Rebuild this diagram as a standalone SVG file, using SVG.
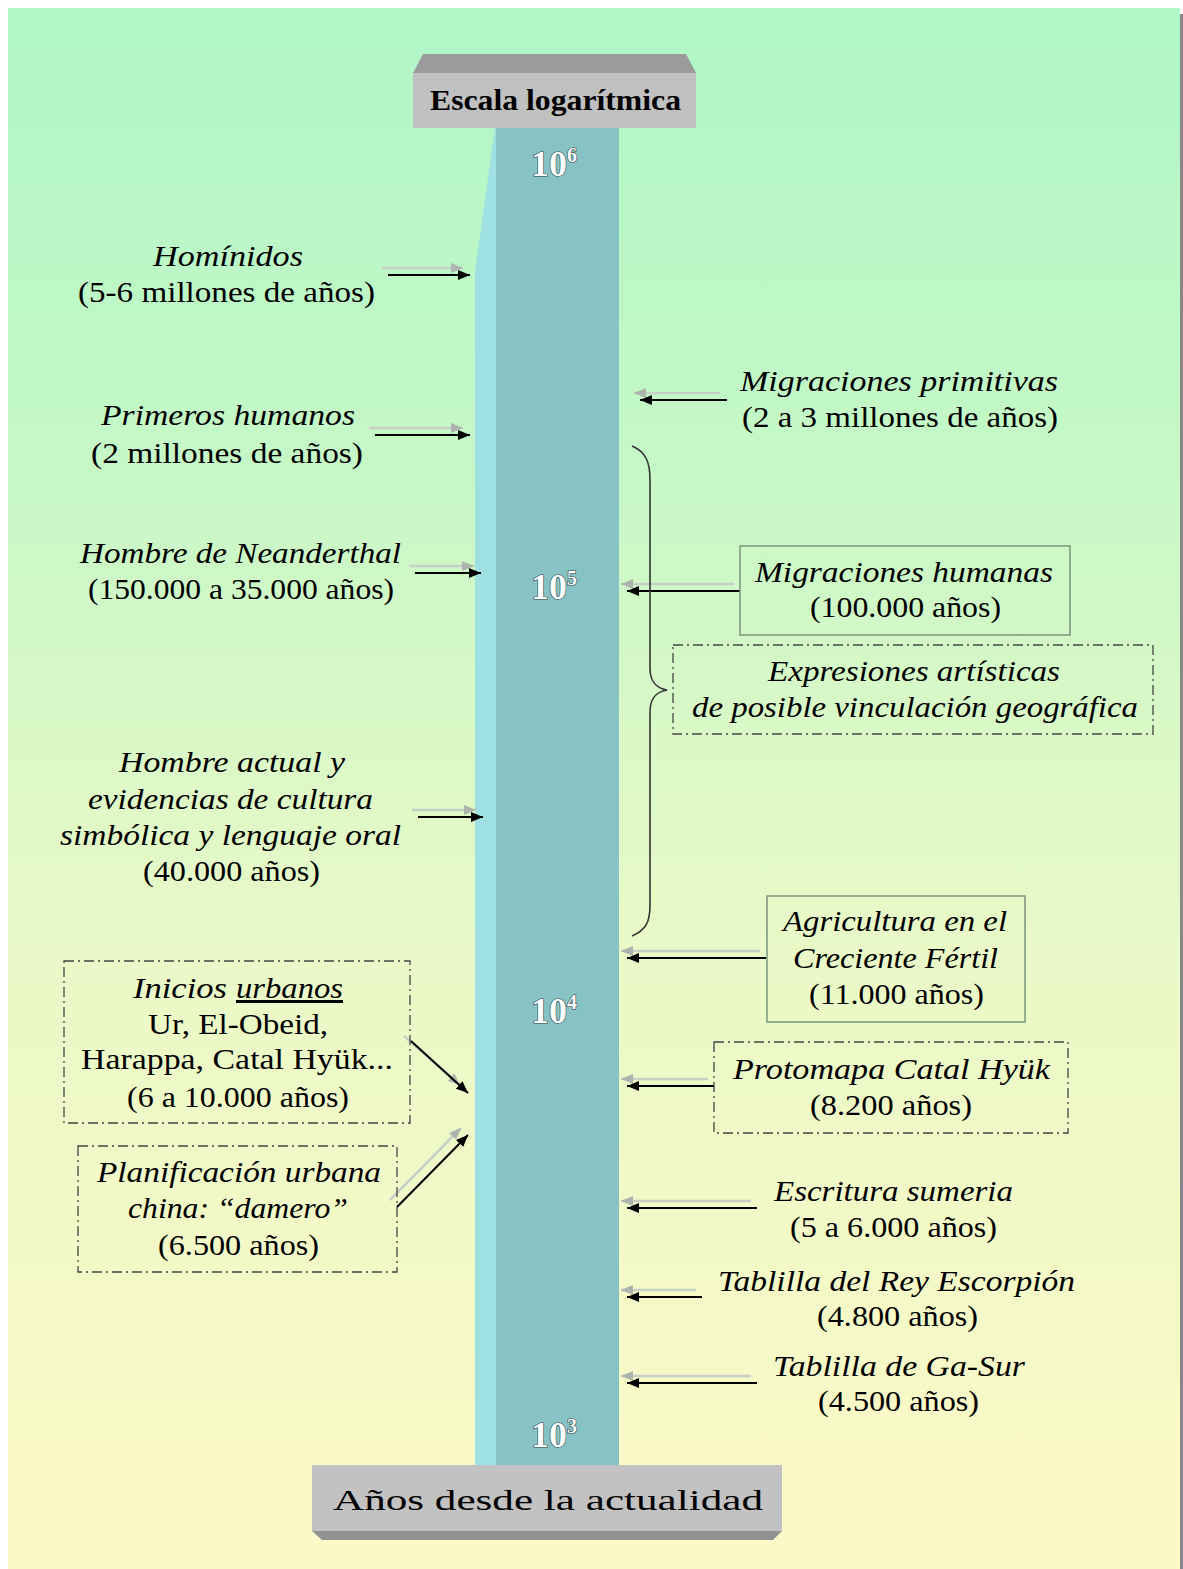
<svg xmlns="http://www.w3.org/2000/svg" width="1183" height="1569" viewBox="0 0 1183 1569">
<defs>
<linearGradient id="bg" x1="0" y1="0" x2="0" y2="1">
<stop offset="0" stop-color="#b0f6c7"/>
<stop offset="0.3" stop-color="#c6f8c6"/>
<stop offset="0.6" stop-color="#e9f9c7"/>
<stop offset="1" stop-color="#fcf9c7"/>
</linearGradient>
<marker id="ah" viewBox="0 0 12 10" refX="12" refY="5" markerWidth="12" markerHeight="10" orient="auto" markerUnits="userSpaceOnUse"><path d="M0,0 L12,5 L0,10 z" fill="#000"/></marker>
<marker id="ahg" viewBox="0 0 12 10" refX="12" refY="5" markerWidth="12" markerHeight="10" orient="auto" markerUnits="userSpaceOnUse"><path d="M0,0 L12,5 L0,10 z" fill="#adb4ad"/></marker>
</defs>
<style>
text{font-family:"Liberation Serif","Times New Roman",serif;font-size:30px;fill:#000}
.i{font-style:italic}
.blk{stroke:#000;stroke-width:2;fill:none;marker-end:url(#ah)}
.gh{stroke:#c6d0c6;stroke-width:2.5;fill:none;marker-end:url(#ahg)}
.solid{fill:none;stroke:#7b947b;stroke-width:1.5}
.dash{fill:none;stroke:#444;stroke-width:1.3;stroke-dasharray:10 4 2 4}
.pw{font-size:36px;font-weight:bold;fill:#fff;stroke:#2e4646;stroke-width:1.2;paint-order:stroke}
</style>
<rect x="0" y="0" width="1183" height="1569" fill="#fff"/>
<rect x="1179" y="14" width="4" height="1555" fill="#888"/>
<rect x="8" y="8" width="1172" height="1561" fill="url(#bg)"/>

<g id="column">
<polygon points="495,128 619,128 619,1465 475,1465 475,272 478,250" fill="#9fe1e3"/>
<rect x="496" y="128" width="123" height="1337" fill="#87c3c4"/>
</g>

<g id="header">
<polygon points="423,54 686,54 696,73 413,73" fill="#9b9b9b"/>
<rect x="413" y="73" width="283" height="55" fill="#c0c0c0"/>
<text x="430" y="110" font-weight="bold" font-size="29" textLength="251" lengthAdjust="spacingAndGlyphs">Escala logarítmica</text>
</g>

<g id="footer">
<rect x="312" y="1465" width="470" height="66" fill="#c2c2c2"/>
<polygon points="312,1531 782,1531 773,1540 322,1540" fill="#919191"/>
<text x="333" y="1510" font-size="40" textLength="430" lengthAdjust="spacingAndGlyphs">Años desde la actualidad</text>
</g>

<g id="powers">
<text class="pw" x="531" y="176">10<tspan font-size="20" dy="-14">6</tspan></text>
<text class="pw" x="531" y="599">10<tspan font-size="20" dy="-14">5</tspan></text>
<text class="pw" x="531" y="1023">10<tspan font-size="20" dy="-14">4</tspan></text>
<text class="pw" x="531" y="1447">10<tspan font-size="20" dy="-14">3</tspan></text>
</g>

<g id="connectors">
<line class="gh" x1="382" y1="268" x2="463" y2="268"/><line class="blk" x1="388" y1="275" x2="470" y2="275"/>
<line class="gh" x1="369" y1="428" x2="463" y2="428"/><line class="blk" x1="375" y1="435" x2="470" y2="435"/>
<line class="gh" x1="409" y1="566" x2="474" y2="566"/><line class="blk" x1="415" y1="573" x2="481" y2="573"/>
<line class="gh" x1="412" y1="810" x2="476" y2="810"/><line class="blk" x1="418" y1="817" x2="483" y2="817"/>
<line class="gh" x1="404" y1="1036" x2="460" y2="1085"/><line class="blk" x1="411" y1="1041" x2="468" y2="1093"/>
<line class="gh" x1="390" y1="1200" x2="461" y2="1128"/><line class="blk" x1="397" y1="1207" x2="468" y2="1135"/>
<line class="gh" x1="720" y1="393" x2="634" y2="393"/><line class="blk" x1="727" y1="400" x2="640" y2="400"/>
<line class="gh" x1="734" y1="584" x2="621" y2="584"/><line class="blk" x1="740" y1="591" x2="627" y2="591"/>
<line class="gh" x1="760" y1="951" x2="621" y2="951"/><line class="blk" x1="766" y1="958" x2="627" y2="958"/>
<line class="gh" x1="708" y1="1079" x2="621" y2="1079"/><line class="blk" x1="714" y1="1086" x2="627" y2="1086"/>
<line class="gh" x1="751" y1="1201" x2="621" y2="1201"/><line class="blk" x1="757" y1="1208" x2="627" y2="1208"/>
<line class="gh" x1="696" y1="1290" x2="621" y2="1290"/><line class="blk" x1="702" y1="1297" x2="627" y2="1297"/>
<line class="gh" x1="751" y1="1376" x2="621" y2="1376"/><line class="blk" x1="757" y1="1383" x2="627" y2="1383"/>
<path d="M632,446 C646,452 650,462 650,480 L650,668 C650,682 656,688 667,690 C656,692 650,698 650,712 L650,905 C650,922 646,930 632,936" fill="none" stroke="#333" stroke-width="1.6"/>
</g>

<g id="hominidos">
<text class="i" x="153" y="266" textLength="150" lengthAdjust="spacingAndGlyphs">Homínidos</text>
<text x="78" y="302" textLength="297" lengthAdjust="spacingAndGlyphs">(5-6 millones de años)</text>
</g>
<g id="primeros">
<text class="i" x="101" y="425" textLength="254" lengthAdjust="spacingAndGlyphs">Primeros humanos</text>
<text x="91" y="463" textLength="272" lengthAdjust="spacingAndGlyphs">(2 millones de años)</text>
</g>
<g id="neanderthal">
<text class="i" x="80" y="563" textLength="321" lengthAdjust="spacingAndGlyphs">Hombre de Neanderthal</text>
<text x="88" y="599" textLength="306" lengthAdjust="spacingAndGlyphs">(150.000 a 35.000 años)</text>
</g>
<g id="hombre-actual">
<text class="i" x="119" y="772" textLength="226" lengthAdjust="spacingAndGlyphs">Hombre actual y</text>
<text class="i" x="88" y="809" textLength="285" lengthAdjust="spacingAndGlyphs">evidencias de cultura</text>
<text class="i" x="60" y="845" textLength="341" lengthAdjust="spacingAndGlyphs">simbólica y lenguaje oral</text>
<text x="143" y="881" textLength="177" lengthAdjust="spacingAndGlyphs">(40.000 años)</text>
</g>
<g id="inicios">
<rect class="dash" x="64" y="961" width="346" height="162"/>
<text class="i" x="133" y="998" textLength="94" lengthAdjust="spacingAndGlyphs">Inicios</text>
<text class="i" x="236" y="998" textLength="107" lengthAdjust="spacingAndGlyphs" text-decoration="underline">urbanos</text>
<text x="148" y="1034" textLength="180" lengthAdjust="spacingAndGlyphs">Ur, El-Obeid,</text>
<text x="81" y="1069" textLength="312" lengthAdjust="spacingAndGlyphs">Harappa, Catal Hyük...</text>
<text x="127" y="1107" textLength="222" lengthAdjust="spacingAndGlyphs">(6 a 10.000 años)</text>
</g>
<g id="planificacion">
<rect class="dash" x="78" y="1146" width="319" height="126"/>
<text class="i" x="97" y="1182" textLength="284" lengthAdjust="spacingAndGlyphs">Planificación urbana</text>
<text class="i" x="128" y="1218" textLength="220" lengthAdjust="spacingAndGlyphs">china: “damero”</text>
<text x="158" y="1255" textLength="161" lengthAdjust="spacingAndGlyphs">(6.500 años)</text>
</g>
<g id="migraciones-primitivas">
<text class="i" x="740" y="391" textLength="318" lengthAdjust="spacingAndGlyphs">Migraciones primitivas</text>
<text x="742" y="427" textLength="316" lengthAdjust="spacingAndGlyphs">(2 a 3 millones de años)</text>
</g>
<g id="migraciones-humanas">
<rect class="solid" x="740" y="546" width="330" height="89"/>
<text class="i" x="755" y="582" textLength="298" lengthAdjust="spacingAndGlyphs">Migraciones humanas</text>
<text x="810" y="617" textLength="191" lengthAdjust="spacingAndGlyphs">(100.000 años)</text>
</g>
<g id="expresiones">
<rect class="dash" x="673" y="645" width="480" height="89"/>
<text class="i" x="768" y="681" textLength="292" lengthAdjust="spacingAndGlyphs">Expresiones artísticas</text>
<text class="i" x="692" y="717" textLength="446" lengthAdjust="spacingAndGlyphs">de posible vinculación geográfica</text>
</g>
<g id="agricultura">
<rect class="solid" x="767" y="896" width="258" height="126"/>
<text class="i" x="783" y="931" textLength="224" lengthAdjust="spacingAndGlyphs">Agricultura en el</text>
<text class="i" x="793" y="968" textLength="205" lengthAdjust="spacingAndGlyphs">Creciente Fértil</text>
<text x="809" y="1004" textLength="175" lengthAdjust="spacingAndGlyphs">(11.000 años)</text>
</g>
<g id="protomapa">
<rect class="dash" x="714" y="1042" width="354" height="91"/>
<text class="i" x="733" y="1079" textLength="317" lengthAdjust="spacingAndGlyphs">Protomapa Catal Hyük</text>
<text x="810" y="1115" textLength="162" lengthAdjust="spacingAndGlyphs">(8.200 años)</text>
</g>
<g id="escritura">
<text class="i" x="774" y="1201" textLength="239" lengthAdjust="spacingAndGlyphs">Escritura sumeria</text>
<text x="790" y="1237" textLength="207" lengthAdjust="spacingAndGlyphs">(5 a 6.000 años)</text>
</g>
<g id="escorpion">
<text class="i" x="718" y="1291" textLength="357" lengthAdjust="spacingAndGlyphs">Tablilla del Rey Escorpión</text>
<text x="817" y="1326" textLength="161" lengthAdjust="spacingAndGlyphs">(4.800 años)</text>
</g>
<g id="ga-sur">
<text class="i" x="773" y="1376" textLength="252" lengthAdjust="spacingAndGlyphs">Tablilla de Ga-Sur</text>
<text x="818" y="1411" textLength="161" lengthAdjust="spacingAndGlyphs">(4.500 años)</text>
</g>
</svg>
